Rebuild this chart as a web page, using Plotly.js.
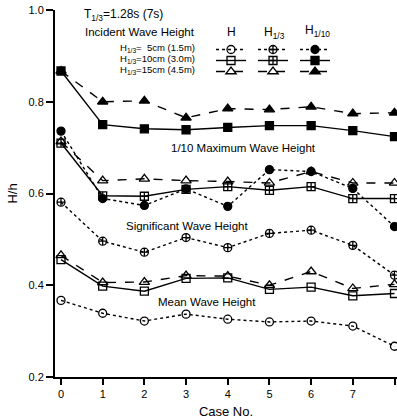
<!DOCTYPE html>
<html>
<head>
<meta charset="utf-8">
<script src="https://cdn.plot.ly/plotly-3.0.1.min.js"></script>
<style>html,body{margin:0;padding:0;background:#fff;}#chart{width:397px;height:419px;}</style>
</head>
<body>
<div id="chart"></div>
<script>
// ---- data ----
const cases = [0, 1, 2, 3, 4, 5, 6, 7, 8];
const xTickLabels = ["0", "1", "2", "3", "4", "5", "6", "7", "8"];
const yTickValues = [0.2, 0.4, 0.6, 0.8, 1.0];
const yTickLabels = ["0.2", "0.4", "0.6", "0.8", "1.0"];

// Mean wave height H
const H_5cm  = [0.367, 0.339, 0.322, 0.337, 0.326, 0.320, 0.322, 0.311, 0.267];
const H_10cm = [0.456, 0.398, 0.387, 0.415, 0.416, 0.391, 0.396, 0.377, 0.382];
const H_15cm = [0.465, 0.406, 0.407, 0.421, 0.420, 0.400, 0.430, 0.393, 0.402];
// Significant wave height H1/3
const H13_5cm  = [0.581, 0.496, 0.472, 0.504, 0.482, 0.513, 0.520, 0.487, 0.422];
const H13_10cm = [0.710, 0.595, 0.594, 0.609, 0.615, 0.607, 0.615, 0.589, 0.589];
const H13_15cm = [0.713, 0.628, 0.632, 0.628, 0.626, 0.623, 0.648, 0.623, 0.623];
// 1/10 maximum wave height H1/10
const H110_5cm  = [0.736, 0.589, 0.574, 0.610, 0.572, 0.652, 0.648, 0.611, 0.528];
const H110_10cm = [0.867, 0.750, 0.741, 0.739, 0.744, 0.748, 0.748, 0.737, 0.724];
const H110_15cm = [0.867, 0.800, 0.802, 0.765, 0.785, 0.783, 0.789, 0.774, 0.776];

const FONT = "Liberation Sans, Arial, Helvetica, sans-serif";

function px2x(p) { return (p - 55) / 342; }
function px2y(p) { return (377 - p) / 367; }

// legend key columns (H, H1/3, H1/10) and rows (5, 10, 15 cm), in pixels
const keyCols = [231, 273, 315];
const keyRows = [48, 59, 70];

function tr(y, dash, symbol, size, col, row, idx) {
  return {
    x: cases, y: y, type: "scatter", mode: "lines+markers", name: "",
    line: {color: "#000", width: 1.4, dash: dash},
    marker: {symbol: symbol, size: size || 8, color: "#000",
             line: {color: "#000", width: 1.3}},
    cliponaxis: false, showlegend: true,
    legend: idx === 1 ? "legend" : "legend" + idx,
    _col: col, _row: row
  };
}

const data = [
  tr(H_5cm,    "dot",   "circle-open",        8, 0, 0, 1),
  tr(H13_5cm,  "dot",   "circle-cross-open",  8, 1, 0, 2),
  tr(H110_5cm, "dot",   "circle",             8, 2, 0, 3),
  tr(H_10cm,   "solid", "square-open",        8, 0, 1, 4),
  tr(H13_10cm, "solid", "square-cross-open",  8, 1, 1, 5),
  tr(H110_10cm,"solid", "square",             8, 2, 1, 6),
  tr(H_15cm,   "dash",  "triangle-up-open",   9, 0, 2, 7),
  tr(H13_15cm, "dash",  "triangle-up-open",   9, 1, 2, 8),
  tr(H110_15cm,"dash",  "triangle-up",        9, 2, 2, 9)
];

function ann(text, xp, yp, size, xanchor) {
  return {text: text, x: px2x(xp), y: px2y(yp), xref: "paper", yref: "paper",
          xanchor: xanchor || "left", yanchor: "middle", showarrow: false,
          font: {family: FONT, size: size, color: "#000"}};
}

const annotations = [
  ann("T<sub>1/3</sub>=1.28s (7s)", 82, 15, 12),
  ann("Incident Wave Height", 83, 32, 11.5),
  ann("H<sub>1/3</sub>=  5cm (1.5m)", 118, keyRows[0], 9.5),
  ann("H<sub>1/3</sub>=10cm (3.0m)", 118, keyRows[1], 9.5),
  ann("H<sub>1/3</sub>=15cm (4.5m)", 118, keyRows[2], 9.5),
  ann("H", keyCols[0], 32, 12, "center"),
  ann("H<sub>1/3</sub>", keyCols[1] + 1, 33, 12, "center"),
  ann("H<sub>1/10</sub>", keyCols[2] + 2, 31, 12, "center"),
  ann("1/10 Maximum Wave Height", 243, 148, 11.5, "center"),
  ann("Significant Wave Height", 187, 226, 11.5, "center"),
  ann("Mean Wave Height", 207, 302, 11.5, "center")
];

const layout = {
  width: 397, height: 419,
  margin: {l: 55, r: 0, t: 10, b: 42, pad: 0},
  paper_bgcolor: "#fff", plot_bgcolor: "#fff",
  font: {family: FONT, size: 11, color: "#000"},
  showlegend: true,
  xaxis: {
    range: [-0.144, 8.06], tickvals: cases, ticktext: xTickLabels,
    showgrid: false, zeroline: false, showline: true, linecolor: "#000", linewidth: 2,
    ticks: "outside", ticklen: 6, tickwidth: 2, tickcolor: "#000",
    tickfont: {family: FONT, size: 11, color: "#000"},
    title: {text: "Case No.", font: {family: FONT, size: 13, color: "#000"}, standoff: 9}
  },
  yaxis: {
    range: [0.2, 1.0], tickvals: yTickValues, ticktext: yTickLabels,
    showgrid: false, zeroline: false, showline: true, linecolor: "#000", linewidth: 2,
    ticks: "outside", ticklen: 7, tickwidth: 2, tickcolor: "#000",
    tickfont: {family: FONT, size: 11, color: "#000"},
    title: {text: "H/h", font: {family: FONT, size: 13, color: "#000"}, standoff: 8}
  },
  annotations: annotations
};

// one single-key legend per trace, placed on the key grid
data.forEach(function (t) {
  const key = t.legend;
  layout[key] = {
    x: px2x(keyCols[t._col] - 20), y: px2y(keyRows[t._row] - 13),
    xanchor: "left", yanchor: "top", orientation: "v",
    bgcolor: "rgba(0,0,0,0)", borderwidth: 0, itemwidth: 30,
    font: {family: FONT, size: 8}, tracegroupgap: 0
  };
  delete t._col; delete t._row;
});

Plotly.newPlot("chart", data, layout, {displayModeBar: false, staticPlot: true});
</script>
</body>
</html>
